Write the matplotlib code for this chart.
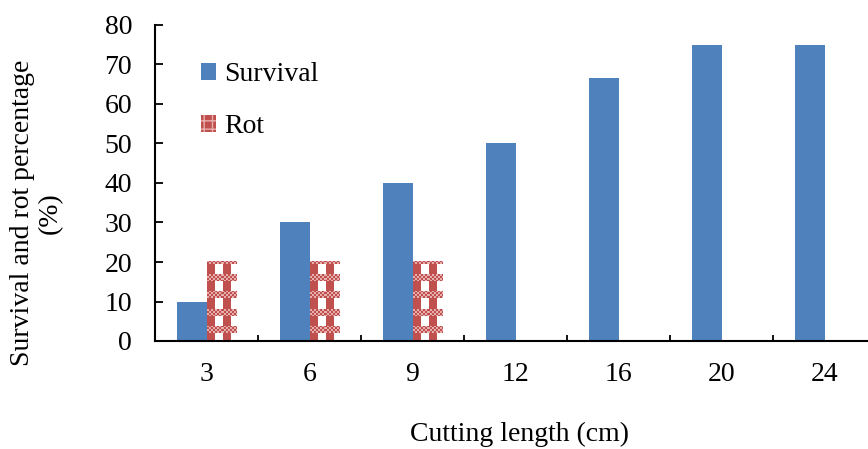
import numpy as np
import matplotlib
matplotlib.use("Agg")
import matplotlib.pyplot as plt
from matplotlib.colors import to_rgb
from matplotlib.patches import Patch

plt.rcParams["font.family"] = ["Liberation Serif", "DejaVu Serif"]

lengths = ["3", "6", "9", "12", "16", "20", "24"]
survival = [10, 30, 40, 50, 66.7, 75, 75]
rot = [20, 20, 20, 0, 0, 0, 0]

BLUE = "#4F81BD"
RED = "#C0504D"
PINK = "#E8AEAD"
FS = 20

W, H, DPI = 868, 449, 100
fig = plt.figure(figsize=(W / DPI, H / DPI), dpi=DPI)
ax = fig.add_axes([155 / W, 108 / H, 721 / W, 316 / H])

x = np.arange(len(lengths))
bw = 0.286
ax.bar(x - bw / 2, survival, bw, color=BLUE, edgecolor="none", zorder=2)
rot_bars = ax.bar(x + bw / 2, rot, bw, color="none", edgecolor="none", zorder=2)

ax.set_xlim(-0.5, len(lengths) - 0.5)
ax.set_ylim(0, 80)


def check_texture(w_px, h_px):
    # red vertical stripes crossed by thin checkered bands, row 0 = bottom
    yy, xx = np.mgrid[0:h_px, 0:w_px]
    img = np.ones((h_px, w_px, 3))
    stripe = (xx % 15) < 8
    band = (yy % 17 >= 8) & (yy % 17 < 15)
    check = ((xx // 2 + yy // 2) % 2) == 0
    img[band & ~check] = to_rgb(PINK)
    img[(stripe & ~band) | (band & check)] = to_rgb(RED)
    return img


for bar in rot_bars:
    h = bar.get_height()
    if h <= 0:
        continue
    x0, w = bar.get_x(), bar.get_width()
    (px0, py0), (px1, py1) = ax.transData.transform([(x0, 0), (x0 + w, h)])
    tex = check_texture(max(int(round(px1 - px0)), 1), max(int(round(py1 - py0)), 1))
    ax.imshow(tex, extent=(x0, x0 + w, 0, h), origin="lower", aspect="auto",
              interpolation="nearest", zorder=2)

ax.set_xlim(-0.5, len(lengths) - 0.5)
ax.set_ylim(0, 80)

ax.set_yticks(range(0, 81, 10))
ax.tick_params(axis="y", direction="in", length=6, width=1.3, pad=16.5, labelsize=FS)
ax.set_xticks(x)
ax.set_xticklabels(lengths)
ax.set_xticks(x[:-1] + 0.5, minor=True)
ax.tick_params(axis="x", which="major", length=0, pad=15, labelsize=FS)
ax.tick_params(axis="x", which="minor", direction="in", length=4.5, width=1.3)

for side in ("top", "right"):
    ax.spines[side].set_visible(False)
for side in ("left", "bottom"):
    ax.spines[side].set_linewidth(1.5)

handles = [Patch(facecolor=BLUE, edgecolor="none", label="Survival"),
           Patch(facecolor=RED, edgecolor=PINK, hatch="++", lw=0, label="Rot")]
ax.legend(handles=handles, loc="upper left", bbox_to_anchor=(201 / W, 1 - 62 / H),
          bbox_transform=fig.transFigure, frameon=False, fontsize=FS,
          handlelength=0.55, handleheight=0.55, handletextpad=0.3,
          labelspacing=0.98, borderaxespad=0, borderpad=0)

fig.text(36 / W, 1 - 213 / H, "Survival and rot percentage\n(%)", rotation=90,
         ha="center", va="center", multialignment="center", fontsize=FS,
         linespacing=1.15)
fig.text(519 / W, 1 - 434 / H, "Cutting length (cm)", ha="center", va="center",
         fontsize=FS)

fig.savefig("out.png", dpi=DPI)
